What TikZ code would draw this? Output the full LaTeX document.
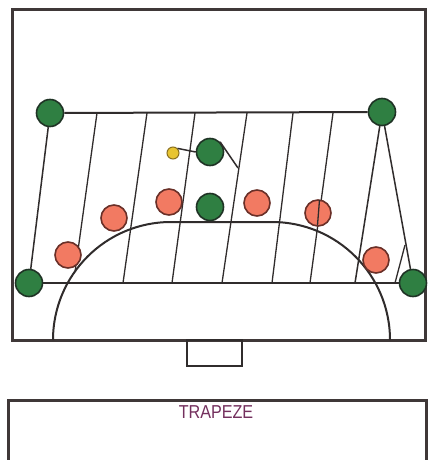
\documentclass[tikz,border=0pt]{standalone}
\usepackage{fontspec}
\setmainfont{Liberation Sans}
\definecolor{frame}{HTML}{3F3838}
\definecolor{ink}{HTML}{302C2C}
\definecolor{gfill}{HTML}{2F7F42}
\definecolor{gline}{HTML}{1F3325}
\definecolor{rfill}{HTML}{F27A62}
\definecolor{rline}{HTML}{6A3028}
\definecolor{yfill}{HTML}{E8C430}
\definecolor{yline}{HTML}{8A7020}
\definecolor{title}{HTML}{74305E}
\begin{document}
\begin{tikzpicture}[x=1pt,y=-1pt,
  framebox/.style={draw=frame,line width=3pt},
  court/.style={draw=ink,line width=2pt},
  hatchline/.style={draw=ink,line width=1.3pt},
  green/.style={circle,fill=gfill,draw=gline,line width=1.6pt,minimum size=27pt,inner sep=0pt},
  red/.style={circle,fill=rfill,draw=rline,line width=1.6pt,minimum size=26pt,inner sep=0pt},
  ball/.style={circle,fill=yfill,draw=yline,line width=1pt,minimum size=12pt,inner sep=0pt}]
\useasboundingbox[fill=white] (0,0) rectangle (428,460);
% frames
\draw[framebox] (12,10) rectangle (425,340);
\draw[framebox] (8,460) -- (8,400) -- (426,400) -- (426,460);
% goal
\draw[court] (187,340) rectangle (242,366);
% 6m zone
\draw[court] (53,340) arc[start angle=180,end angle=270,radius=118] -- (272,222)
  arc[start angle=270,end angle=360,radius=118];
% hatching
\draw[hatchline] (97,113) -- (75,272);
\draw[hatchline] (147,113) -- (123,283);
\draw[hatchline] (195,113) -- (172,283);
\draw[hatchline] (247,113) -- (222,283);
\draw[hatchline] (293,113) -- (272,283);
\draw[hatchline] (333,113) -- (310,283);
\draw[hatchline] (395,283) -- (405,245);
% players
\node[green] (tl) at (50,113) {};
\node[green] (tr) at (382,112) {};
\node[green] (bl) at (29,283) {};
\node[green] (br) at (413,283) {};
\coordinate (tri) at (355,283);
\draw[court] (tl) -- (tr);
\draw[court] (bl) -- (br);
\draw[court,line width=1.5pt] (tl) -- (bl);
\draw[court,line width=1.5pt] (tr) -- (br);
\draw[court,line width=1.5pt] (tr) -- (tri);
\node[ball] (yb) at (173,153) {};
\node[green] (gp) at (210,152) {};
\coordinate (mv) at (238,168);
\draw[court,line width=1.5pt] (yb.north east) -- (gp.west);
\draw[court,line width=1.5pt] (gp.north east) -- (mv);
\node[green] (gm) at (210,207) {};
\node[red] (r1) at (68,255) {};
\node[red] (r2) at (114,218) {};
\node[red] (r3) at (169,202) {};
\node[red] (r4) at (257,203) {};
\node[red] (r5) at (318,213) {};
\node[red] (r6) at (376,260) {};
\draw[hatchline] (319.5,200) -- (317.5,225);
% title
\node[text=title,font=\fontsize{17}{17}\selectfont,inner sep=0pt,xscale=0.95,yscale=1.1] (t) at (216,412) {TRAPEZE};
\end{tikzpicture}
\end{document}
